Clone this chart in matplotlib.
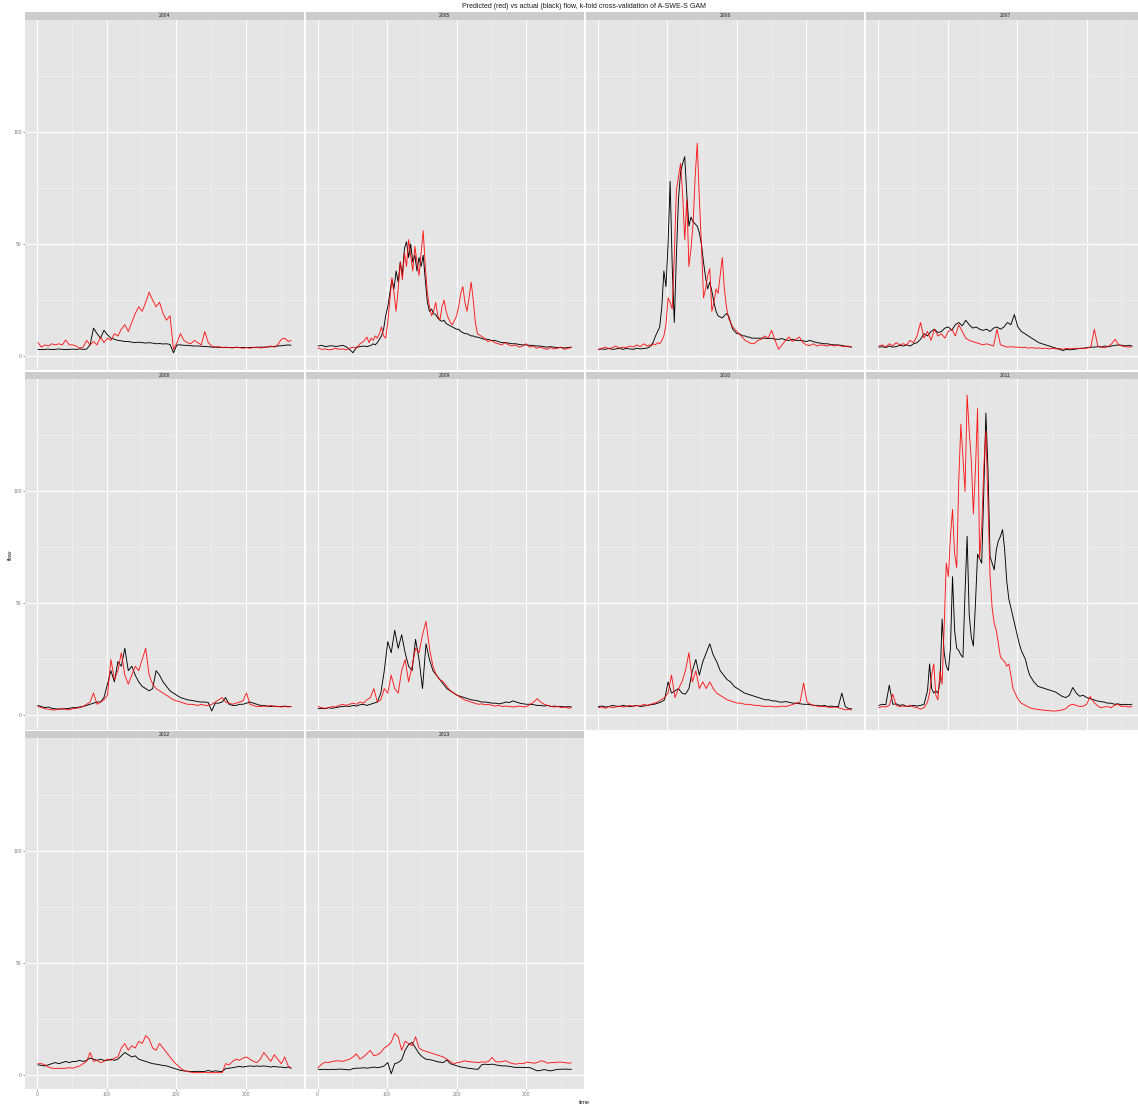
import matplotlib.pyplot as plt

plt.rcParams['font.family'] = ['Liberation Sans', 'DejaVu Sans']

# sampling days: every 5 days, finer through the melt peak for the big years
days_flat = list(range(1, 362, 5)) + [365]
days_peak = list(range(1, 72, 5)) + list(range(74, 231, 3)) + list(range(235, 366, 5))

years = [2004, 2005, 2006, 2007, 2008, 2009, 2010, 2011, 2012, 2013]

actual_2004 = [
    3.0, 2.9, 3.0, 3.1, 2.9, 3.0, 3.2, 3.0, 2.9, 3.0,
    3.1, 3.0, 3.2, 3.0, 3.1, 5.0, 12.5, 10.0, 8.0, 11.5,
    9.5, 8.0, 7.5, 7.0, 6.8, 6.5, 6.5, 6.2, 6.0, 6.2,
    6.0, 5.8, 6.0, 5.8, 5.5, 5.6, 5.4, 5.5, 5.2, 1.5,
    5.0, 5.0, 4.8, 4.8, 4.6, 4.5, 4.5, 4.4, 4.3, 4.2,
    4.0, 4.0, 3.9, 3.9, 3.8, 3.8, 3.8, 3.9, 3.8, 3.8,
    3.8, 3.8, 3.9, 3.9, 4.0, 4.0, 4.1, 4.2, 4.3, 4.5,
    4.6, 4.8, 5.0, 4.8]
pred_2004 = [
    6.0, 4.0, 5.0, 4.5, 5.5, 5.0, 5.5, 5.0, 7.2, 5.0,
    5.0, 4.5, 3.5, 4.0, 7.0, 5.0, 6.5, 5.0, 8.5, 6.0,
    8.0, 7.0, 10.0, 9.0, 12.0, 14.0, 11.0, 15.0, 19.0, 22.0,
    20.0, 24.0, 28.5, 25.0, 22.0, 24.0, 19.0, 16.0, 18.0, 3.0,
    6.0, 10.0, 7.0, 6.0, 5.5, 7.0, 6.0, 5.0, 11.0, 6.0,
    4.5, 4.0, 4.2, 3.8, 4.0, 3.8, 3.6, 4.0, 3.8, 3.5,
    3.8, 3.5, 3.8, 4.0, 3.6, 3.8, 4.0, 4.5, 4.0, 5.0,
    7.5, 8.0, 6.5, 7.0]

actual_2005 = [
    4.5, 4.8, 4.2, 4.5, 4.6, 4.3, 4.5, 4.8, 4.2, 3.0, 1.5, 4.0, 4.2, 4.5, 4.2,
    4.5, 4.8, 5.5, 5.0, 6.0, 7.5, 9.0, 12.0, 18.0, 22.0,
    28.0, 34.0, 30.0, 38.0, 33.0, 42.0, 36.0, 48.0, 51.0, 44.0,
    50.0, 42.0, 45.0, 38.0, 44.0, 40.0, 45.0, 34.0, 24.0, 20.0,
    21.0, 19.0, 18.5, 17.0, 16.0, 15.5, 16.0, 14.5, 14.0, 13.5,
    13.0, 12.5, 12.0, 12.0, 11.0, 10.5, 10.0, 10.0, 9.5, 9.0,
    9.0, 8.5, 8.5,
    8.0, 7.5, 7.5, 7.0, 7.0, 6.5, 6.0, 6.0, 5.8, 5.5,
    5.5, 5.2, 5.0, 5.0, 4.8, 4.8, 4.5, 4.5, 4.2, 4.0,
    4.2, 4.0, 3.8, 3.8, 3.6, 3.8, 4.0]
pred_2005 = [
    3.5, 3.0, 3.2, 2.8, 3.0, 3.5, 3.0, 3.2, 2.8, 3.5, 4.0, 3.5, 5.5, 6.5, 8.5,
    6.0, 8.0, 7.0, 9.0, 8.0, 10.0, 13.0, 9.0, 8.0, 15.0,
    25.0, 35.0, 28.0, 20.0, 30.0, 42.0, 34.0, 46.0, 40.0, 52.0,
    45.0, 38.0, 49.0, 42.0, 36.0, 46.0, 56.0, 40.0, 28.0, 22.0,
    18.0, 20.0, 24.0, 18.0, 16.0, 22.0, 25.0, 20.0, 17.0, 15.0,
    14.0, 16.0, 18.0, 22.0, 28.0, 31.0, 24.0, 20.0, 26.0, 33.0,
    25.0, 15.0, 10.0,
    9.0, 8.0, 6.5, 7.0, 6.0, 5.5, 5.0, 6.0, 5.0, 4.5,
    5.0, 4.0, 4.5, 5.5, 4.0, 4.5, 3.5, 4.0, 3.5, 3.0,
    3.8, 3.2, 3.5, 4.0, 3.0, 3.5, 3.8]

actual_2006 = [
    3.0, 3.2, 3.0, 3.5, 3.0, 3.2, 3.5, 3.0, 3.4, 3.2, 3.0, 3.5, 3.2, 3.4, 3.6,
    4.0, 5.0, 6.5, 9.0, 11.0, 13.0, 22.0, 38.0, 31.0, 50.0,
    78.0, 40.0, 15.0, 45.0, 70.0, 82.0, 86.0, 89.0, 72.0, 58.0,
    62.0, 60.0, 59.0, 58.0, 55.0, 50.0, 42.0, 35.0, 30.0, 33.0,
    29.0, 24.0, 20.0, 18.0, 17.5, 17.0, 18.0, 19.0, 18.0, 15.0,
    12.0, 11.0, 10.0, 10.0, 9.5, 9.0, 9.0, 8.5, 8.5, 8.0,
    8.0, 8.0, 8.0,
    8.0, 8.0, 7.8, 8.0, 7.5, 7.5, 7.8, 7.2, 7.0, 7.5,
    7.0, 7.0, 6.8, 6.5, 7.0, 6.5, 6.0, 5.8, 5.5, 5.5,
    5.2, 5.0, 5.0, 4.8, 4.5, 4.2, 4.0]
pred_2006 = [
    3.0, 3.5, 4.0, 3.2, 3.8, 4.5, 3.5, 4.0, 3.8, 4.5, 4.0, 5.0, 4.2, 5.5, 4.5,
    5.0, 4.5, 5.5, 5.0, 6.0, 5.5, 7.0, 9.0, 14.0, 26.0,
    24.0, 21.0, 45.0, 74.0, 80.0, 86.0, 72.0, 52.0, 70.0, 40.0,
    48.0, 59.0, 80.0, 95.0, 70.0, 50.0, 26.0, 30.0, 36.0, 39.0,
    20.0, 24.0, 30.0, 28.0, 36.0, 44.0, 30.0, 22.0, 17.0, 15.0,
    13.0, 12.0, 11.0, 10.0, 9.0, 8.0, 7.0, 6.5, 6.0, 5.5,
    5.6, 6.0, 7.0,
    7.5, 9.0, 8.0, 11.5, 7.0, 3.0, 5.0, 7.0, 8.5, 6.5,
    7.5, 8.5, 6.0, 5.0, 4.7, 5.5, 4.5, 5.0, 4.8, 4.5,
    5.0, 4.5, 4.8, 4.5, 4.2, 4.5, 4.0]

actual_2007 = [
    4.0, 4.2, 3.8, 4.5, 4.0, 4.2, 4.8, 4.5, 5.0, 4.5,
    5.5, 6.0, 7.5, 10.0, 9.0, 11.0, 12.0, 10.5, 11.0, 12.5,
    13.0, 11.5, 14.0, 15.0, 13.5, 16.0, 14.0, 12.5, 13.0, 12.0,
    11.5, 12.0, 11.0, 12.5, 13.0, 12.0, 13.0, 15.0, 14.0, 18.5,
    13.0, 11.0, 10.0, 9.0, 8.0, 7.0, 6.0, 5.5, 5.0, 4.5,
    4.0, 3.5, 3.0, 2.5, 3.0, 2.8, 3.0, 3.2, 3.5, 3.5,
    3.8, 4.0, 4.0, 4.2, 4.0, 4.5, 4.2, 4.5, 4.8, 5.0,
    4.8, 4.5, 4.8, 4.5]
pred_2007 = [
    4.5, 5.0, 4.0, 5.5, 4.5, 6.0, 5.0, 5.5, 5.0, 7.0,
    6.0, 9.0, 15.0, 8.0, 11.0, 7.0, 12.0, 9.0, 10.0, 8.0,
    11.0, 12.0, 9.0, 14.0, 11.0, 8.0, 7.0, 6.5, 6.0, 5.5,
    5.0, 5.5, 5.0, 4.5, 12.0, 5.0, 4.5, 4.0, 4.2, 4.0,
    4.0, 3.8, 4.0, 3.5, 3.8, 3.5, 3.6, 3.4, 3.5, 3.2,
    3.5, 3.2, 3.4, 3.0, 3.5, 3.2, 3.4, 3.5, 3.3, 3.5,
    3.6, 4.0, 12.0, 4.5, 4.0, 3.8, 4.2, 5.5, 7.5, 5.0,
    4.5, 4.2, 4.0, 4.2]

actual_2008 = [
    4.5, 4.0, 3.5, 3.8, 3.2, 3.0, 2.8, 3.0, 3.0, 3.2,
    3.5, 3.5, 3.8, 4.0, 4.5, 5.0, 5.5, 6.0, 6.0, 8.0,
    14.0, 20.0, 15.0, 24.0, 22.0, 30.0, 20.0, 22.0, 18.0, 15.0,
    13.0, 12.0, 11.0, 12.0, 20.0, 18.0, 15.0, 13.0, 11.0, 10.0,
    9.0, 8.0, 7.5, 7.0, 6.8, 6.5, 6.2, 6.0, 6.0, 5.8,
    2.0, 5.5, 5.5, 6.0, 8.0, 5.0, 4.5, 4.5, 5.0, 5.0,
    5.5, 6.0, 5.5, 5.0, 4.5, 4.5, 4.2, 4.0, 4.2, 4.0,
    4.0, 4.2, 4.0, 4.0]
pred_2008 = [
    4.0, 3.5, 3.0, 2.8, 2.5, 2.5, 2.8, 3.0, 2.8, 2.5,
    3.0, 3.2, 3.5, 4.0, 5.0, 6.0, 10.0, 5.0, 6.0, 7.0,
    9.0, 25.0, 16.0, 20.0, 28.0, 18.0, 14.0, 18.0, 22.0, 20.0,
    25.0, 30.0, 18.0, 14.0, 12.0, 11.0, 10.0, 9.0, 8.0, 7.0,
    6.5, 6.0, 5.5, 5.0, 5.0, 4.8, 4.5, 5.0, 4.5, 4.5,
    5.0, 6.0, 7.0, 8.0, 6.0, 5.5, 5.0, 5.5, 6.0, 6.5,
    10.0, 5.0, 4.5, 4.0, 4.0, 4.2, 4.0, 4.5, 4.0, 4.0,
    3.8, 4.0, 3.8, 4.0]

actual_2009 = [
    3.0, 3.2, 3.0, 3.5, 3.2, 3.5, 3.8, 4.0, 4.2, 4.0,
    4.5, 4.2, 4.8, 5.0, 4.5, 5.0, 5.5, 6.0, 10.0, 20.0,
    33.0, 28.0, 38.0, 30.0, 36.0, 28.0, 22.0, 20.0, 34.0, 25.0,
    12.0, 32.0, 25.0, 20.0, 18.0, 16.0, 14.0, 12.0, 11.0, 10.0,
    9.0, 8.5, 8.0, 7.5, 7.0, 6.8, 6.5, 6.0, 6.0, 5.8,
    5.5, 5.5, 5.2, 5.5, 6.0, 5.8, 6.5, 6.0, 5.5, 5.2,
    5.0, 5.0, 4.8, 4.5, 4.5, 4.2, 4.5, 4.0, 4.2, 4.0,
    4.0, 3.8, 4.0, 3.8]
pred_2009 = [
    4.0, 3.5, 3.2, 3.5, 4.0, 3.8, 4.5, 5.0, 4.5, 5.0,
    5.5, 5.0, 6.0, 5.5, 7.0, 8.0, 12.0, 6.0, 7.0, 12.0,
    10.0, 18.0, 12.0, 10.0, 20.0, 25.0, 15.0, 22.0, 30.0, 28.0,
    36.0, 42.0, 30.0, 22.0, 18.0, 16.0, 15.0, 13.0, 11.0, 10.0,
    9.0, 8.0, 7.0, 6.5, 6.0, 5.5, 5.0, 5.2, 4.8, 5.0,
    4.5, 4.2, 4.5, 4.0, 4.2, 4.0, 3.8, 4.0, 4.2, 3.8,
    4.0, 5.0, 6.0, 7.5, 6.0, 5.0, 4.5, 4.0, 3.8, 4.0,
    3.5, 3.8, 3.2, 3.5]

actual_2010 = [
    4.0, 4.2, 3.8, 4.0, 4.5, 4.2, 4.0, 4.5, 4.2, 4.0,
    4.2, 4.5, 4.0, 4.2, 4.5, 4.8, 5.0, 5.5, 6.0, 7.0,
    15.0, 10.0, 11.0, 12.0, 10.0, 9.5, 12.0, 20.0, 25.0, 18.0,
    24.0, 28.0, 32.0, 27.0, 24.0, 20.0, 18.0, 16.0, 15.0, 13.0,
    12.0, 11.0, 10.0, 9.5, 9.0, 8.5, 8.0, 7.5, 7.0, 7.0,
    6.5, 6.5, 6.0, 6.0, 6.2, 5.8, 5.5, 5.5, 5.2, 5.0,
    5.0, 4.8, 4.5, 4.5, 4.2, 4.5, 4.0, 4.2, 4.0, 4.0,
    10.0, 4.0, 3.0, 3.0]
pred_2010 = [
    3.5, 3.8, 3.2, 4.0, 3.5, 3.8, 4.2, 3.8, 4.0, 4.5,
    4.0, 4.5, 4.2, 5.0, 4.5, 5.0, 5.5, 6.0, 7.0, 8.0,
    10.0, 18.0, 8.0, 12.0, 15.0, 20.0, 28.0, 15.0, 20.0, 12.0,
    15.0, 12.0, 15.0, 12.0, 10.0, 9.0, 8.0, 7.0, 6.5, 6.0,
    5.5, 5.5, 5.0, 5.0, 4.8, 4.5, 4.5, 4.2, 4.0, 4.2,
    4.0, 3.8, 4.0, 4.2, 4.0, 4.5, 5.0, 5.5, 6.0, 14.5,
    6.0, 5.0, 4.5, 4.2, 4.0, 4.0, 3.8, 3.5, 3.8, 3.5,
    3.0, 2.5, 2.8, 2.5]

actual_2011 = [
    4.5, 5.0, 4.8, 13.5, 5.0, 5.2, 4.5, 4.8, 4.0, 4.2, 4.5, 4.2, 4.5, 5.0, 11.0,
    23.0, 12.0, 10.0, 11.0, 10.0, 15.0, 43.0, 28.0, 22.0, 20.0,
    30.0, 62.0, 38.0, 30.0, 29.0, 27.0, 26.0, 55.0, 80.0, 45.0,
    35.0, 31.0, 50.0, 72.0, 70.0, 68.0, 100.0, 135.0, 110.0, 71.0,
    68.0, 65.0, 74.0, 78.0, 80.0, 83.0, 74.0, 60.0, 52.0, 48.0,
    44.0, 40.0, 36.0, 32.0, 29.0, 27.0, 25.0, 21.0, 18.0, 16.5,
    15.0, 14.0, 13.0,
    12.5, 12.0, 11.5, 11.0, 10.5, 9.5, 8.5, 8.0, 9.0, 12.5,
    10.0, 8.6, 9.0, 8.0, 7.5, 7.0, 6.5, 6.2, 6.0, 5.5,
    5.5, 5.0, 5.2, 4.8, 5.0, 4.8, 5.0]
pred_2011 = [
    3.5, 4.0, 3.8, 4.5, 9.5, 4.5, 4.0, 4.2, 4.0, 4.5, 3.8, 3.5, 2.8, 3.5, 6.0,
    10.0, 18.0, 23.0, 9.0, 7.0, 20.0, 14.0, 40.0, 68.0, 62.0,
    80.0, 92.0, 72.0, 66.0, 105.0, 130.0, 115.0, 100.0, 143.0, 127.0,
    114.0, 90.0, 110.0, 137.0, 70.0, 84.0, 111.0, 127.0, 95.0, 62.0,
    48.0, 41.0, 38.0, 32.0, 26.0, 25.0, 24.0, 22.0, 23.0, 18.0,
    12.0, 10.0, 8.0, 6.5, 5.5, 5.0, 4.5, 4.0, 3.5, 3.2,
    3.0, 2.8, 2.7,
    2.5, 2.3, 2.2, 2.0, 2.0, 2.2, 2.5, 3.0, 4.5, 5.0,
    4.5, 4.0, 4.2, 5.0, 8.5, 6.0, 4.5, 3.5, 3.8, 4.0,
    3.5, 4.5, 5.0, 4.0, 4.2, 3.8, 4.0]

actual_2012 = [
    4.5, 4.2, 4.0, 4.5, 5.0, 5.5, 5.0, 5.5, 6.0, 5.5,
    6.0, 6.0, 6.5, 6.0, 6.5, 7.5, 7.0, 6.5, 7.0, 6.5,
    6.5, 7.0, 6.5, 7.0, 8.5, 10.0, 9.0, 8.0, 8.5, 7.0,
    6.5, 6.0, 5.5, 5.0, 4.8, 4.5, 4.2, 4.0, 3.5, 3.0,
    2.5, 2.0, 1.8, 1.6, 1.5, 1.5, 1.6, 1.5, 1.5, 2.0,
    1.5, 1.8, 1.6, 1.5, 2.8, 3.0, 3.2, 3.5, 3.8, 3.5,
    3.8, 4.0, 3.8, 4.0, 3.8, 4.0, 3.8, 3.5, 3.8, 3.5,
    3.5, 3.2, 3.5, 3.0]
pred_2012 = [
    5.0, 5.0, 4.5, 3.5, 3.0, 2.8, 3.0, 2.8, 3.0, 3.2,
    3.0, 3.5, 4.0, 5.0, 6.0, 10.0, 6.0, 6.5, 5.5, 6.0,
    7.0, 6.5, 7.5, 8.0, 12.0, 14.0, 11.0, 13.0, 12.0, 15.0,
    14.0, 17.5, 16.0, 12.0, 11.0, 14.0, 12.0, 10.0, 8.0, 6.0,
    4.5, 3.0, 2.0, 1.5, 1.2, 1.0, 1.0, 1.0, 1.2, 1.0,
    1.0, 1.0, 1.0, 1.0, 5.0, 4.5, 6.0, 7.0, 6.5, 7.5,
    8.0, 7.0, 6.0, 5.5, 7.0, 10.0, 8.0, 6.0, 9.0, 7.0,
    5.0, 8.0, 4.0, 3.0]

actual_2013 = [
    2.5, 2.4, 2.5, 2.3, 2.5, 2.4, 2.6, 2.5, 2.4, 2.2,
    2.8, 3.0, 3.0, 3.2, 3.0, 3.2, 3.5, 3.2, 3.5, 4.0,
    5.5, 0.5, 5.0, 5.5, 6.7, 11.0, 13.5, 14.5, 12.0, 9.5,
    8.0, 7.0, 6.8, 6.5, 6.0, 5.7, 5.5, 6.7, 5.0, 4.5,
    4.0, 3.5, 3.3, 3.0, 2.8, 2.6, 2.5, 4.5, 4.8, 4.6,
    4.8, 4.5, 4.2, 4.0, 4.0, 3.8, 3.5, 3.3, 3.4, 3.3,
    3.3, 3.2, 2.5, 1.8, 2.0, 2.4, 2.0, 1.8, 2.2, 2.5,
    2.5, 2.6, 2.5, 2.5]
pred_2013 = [
    3.3, 4.8, 5.7, 5.5, 6.0, 6.2, 6.3, 6.0, 6.5, 7.0,
    8.0, 9.4, 7.0, 8.0, 9.5, 10.9, 8.5, 9.0, 10.0, 12.0,
    13.0, 14.6, 18.5, 17.0, 11.0, 15.0, 14.0, 13.0, 17.0, 12.0,
    11.0, 10.5, 10.0, 9.5, 9.0, 8.5, 8.0, 7.0, 6.0, 4.8,
    5.5, 5.7, 6.3, 6.0, 5.8, 5.7, 5.5, 5.8, 5.7, 6.0,
    7.8, 6.0, 5.7, 6.0, 6.3, 5.5, 5.0, 4.8, 5.2, 5.0,
    5.7, 5.5, 5.2, 5.5, 6.3, 6.0, 5.2, 5.5, 5.5, 5.7,
    5.7, 5.5, 5.2, 5.4]

seasons = [
    (days_flat, actual_2004, pred_2004),
    (days_peak, actual_2005, pred_2005),
    (days_peak, actual_2006, pred_2006),
    (days_flat, actual_2007, pred_2007),
    (days_flat, actual_2008, pred_2008),
    (days_flat, actual_2009, pred_2009),
    (days_flat, actual_2010, pred_2010),
    (days_peak, actual_2011, pred_2011),
    (days_flat, actual_2012, pred_2012),
    (days_flat, actual_2013, pred_2013),
]

W, H = 1138, 1106
fig = plt.figure(figsize=(W / 100, H / 100), dpi=100)


def px_rect(x, y, w, h):
    # pixel box (top-left origin) -> figure fraction
    return [x / W, 1 - (y + h) / H, w / W, h / H]


LEFT, TOP = 25.3, 12.3
PANEL_W, PANEL_H, STRIP_H = 278.3, 350.6, 7.3
COL_STEP, ROW_STEP = 280.3, 359.4
GREY_TXT = '#7F7F7F'

for k, (year, (days, actual, pred)) in enumerate(zip(years, seasons)):
    row, col = divmod(k, 4)
    x0 = LEFT + col * COL_STEP
    y0 = TOP + row * ROW_STEP

    strip = fig.add_axes(px_rect(x0, y0, PANEL_W, STRIP_H))
    strip.set_facecolor('#CCCCCC')
    strip.set_xticks([])
    strip.set_yticks([])
    for s in strip.spines.values():
        s.set_visible(False)
    strip.text(0.5, 0.5, str(year), ha='center', va='center',
               fontsize=3.6, color='#1A1A1A', transform=strip.transAxes)

    ax = fig.add_axes(px_rect(x0, y0 + STRIP_H, PANEL_W, PANEL_H))
    ax.set_facecolor('#E5E5E5')
    ax.plot(days, actual, color='black', lw=0.65)
    ax.plot(days, pred, color='red', lw=0.65, alpha=0.9)

    ax.set_xlim(-17.2, 383.2)
    ax.set_ylim(-6.3, 150.2)
    ax.set_xticks([0, 100, 200, 300])
    ax.set_xticks([50, 150, 250, 350], minor=True)
    ax.set_yticks([0, 50, 100])
    ax.set_yticks([25, 75, 125], minor=True)
    ax.grid(which='major', color='white', lw=0.8)
    ax.grid(which='minor', color='#F2F2F2', lw=0.4)
    ax.set_axisbelow(True)
    for s in ax.spines.values():
        s.set_visible(False)
    ax.tick_params(which='minor', length=0)
    ax.tick_params(which='major', length=1.5, width=0.5, color=GREY_TXT,
                   labelsize=3.6, labelcolor=GREY_TXT, pad=1)
    if col != 0:
        ax.tick_params(axis='y', left=False, labelleft=False)
    if row != 2:
        ax.tick_params(axis='x', bottom=False, labelbottom=False)

fig.text(584 / W, 1 - 7 / H,
         'Predicted (red) vs actual (black) flow, k-fold cross-validation of A-SWE-S GAM',
         ha='center', va='center', fontsize=5, color='#1A1A1A')
fig.text(584 / W, 1 - 1102 / H, 'time', ha='center', va='center',
         fontsize=4.2, color='#1A1A1A')
fig.text(10 / W, 1 - 555 / H, 'flow', ha='center', va='center',
         rotation=90, fontsize=4.2, color='#1A1A1A')

fig.savefig('out.png', dpi=100, facecolor='white')
